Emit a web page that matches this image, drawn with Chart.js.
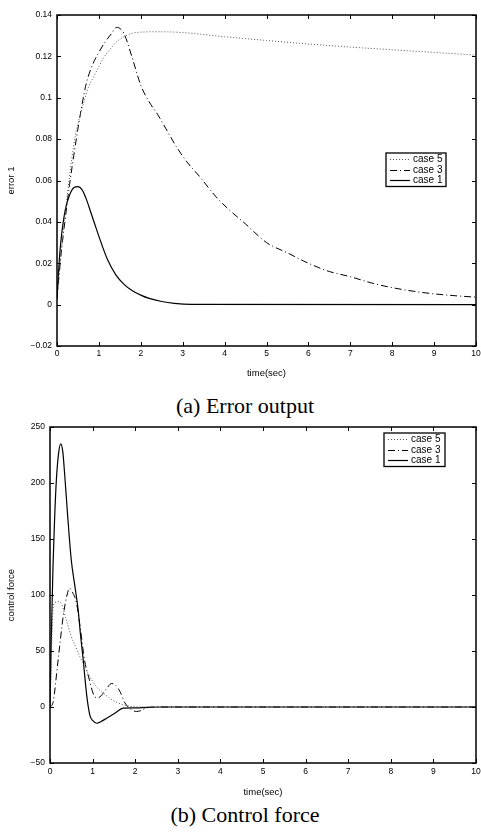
<!DOCTYPE html>
<html>
<head>
<meta charset="utf-8">
<script src="https://cdn.jsdelivr.net/npm/chart.js@4.4.0/dist/chart.umd.min.js"></script>
<style>
  body { margin: 0; background: #fff; width: 481px; height: 833px; position: relative; overflow: hidden; }
  canvas { position: absolute; left: 0; }
  #errChart { top: 0; }
  #forceChart { top: 418px; }
  .caption { position: absolute; left: 0; width: 490px; text-align: center; line-height: 24px;
             font-family: "Liberation Serif", "Times New Roman", serif; font-size: 22px; color: #000; }
</style>
</head>
<body>
<canvas id="errChart" width="481" height="385"></canvas>
<div class="caption" style="top:394px">(a) Error output</div>
<canvas id="forceChart" width="481" height="382"></canvas>
<div class="caption" style="top:803px">(b) Control force</div>
<script>
// (a) error 1 vs time
const errTime1 = [0, 0.05, 0.1, 0.2, 0.3, 0.4, 0.5, 0.6, 0.7, 0.8, 0.9, 1.0, 1.2, 1.4, 1.6, 1.8, 2.0, 2.2, 2.5, 2.8, 3.2, 10];
const errCase1 = [0.003, 0.02, 0.032, 0.046, 0.053, 0.0565, 0.057, 0.0555, 0.051, 0.045, 0.039, 0.033, 0.022, 0.0145, 0.0098, 0.0067, 0.0046, 0.003, 0.0015, 0.0006, 0.0001, 0];

const errTime3 = [0, 0.1, 0.2, 0.3, 0.4, 0.5, 0.6, 0.7, 0.85, 1.0, 1.15, 1.3, 1.42, 1.5, 1.6, 1.8, 2.0, 2.2, 2.4, 2.6, 2.86, 3.1, 3.4, 3.8, 4.1, 4.5, 5.0, 5.5, 6.0, 6.5, 7.0, 7.5, 8.0, 8.5, 9.0, 9.5, 10];
const errCase3 = [0.003, 0.025, 0.042, 0.058, 0.072, 0.085, 0.097, 0.107, 0.116, 0.122, 0.127, 0.131, 0.134, 0.1335, 0.131, 0.119, 0.106, 0.098, 0.092, 0.085, 0.076, 0.069, 0.062, 0.052, 0.046, 0.039, 0.030, 0.025, 0.020, 0.016, 0.0135, 0.0105, 0.0082, 0.0065, 0.0052, 0.0043, 0.0036];

const errTime5 = [0, 0.1, 0.2, 0.27, 0.35, 0.43, 0.53, 0.63, 0.75, 0.87, 1.0, 1.1, 1.25, 1.42, 1.6, 1.8, 2.0, 2.46, 3, 4, 5, 5.8, 7, 8, 9, 10];
const errCase5 = [0.003, 0.025, 0.045, 0.057, 0.07, 0.081, 0.09, 0.097, 0.105, 0.11, 0.115, 0.119, 0.123, 0.127, 0.1295, 0.1312, 0.1317, 0.1319, 0.1315, 0.1295, 0.1277, 0.1263, 0.1245, 0.1232, 0.1219, 0.1206];

// (b) control force vs time
const forceTime1 = [0, 0.03, 0.07, 0.11, 0.15, 0.2, 0.25, 0.3, 0.34, 0.42, 0.5, 0.58, 0.66, 0.72, 0.78, 0.84, 0.88, 0.94, 1.0, 1.1, 1.2, 1.33, 1.53, 1.72, 2.0, 2.3, 2.6, 10];
const forceCase1 = [0, 60, 125, 170, 203, 226, 235, 228, 210, 168, 131, 109, 87, 63, 42, 18, 5, -8, -12, -14.5, -13, -10, -5.4, -1, -0.8, -0.3, 0, 0];

const forceTime3 = [0, 0.07, 0.19, 0.31, 0.4, 0.46, 0.52, 0.62, 0.72, 0.81, 0.92, 1.01, 1.1, 1.2, 1.3, 1.45, 1.55, 1.64, 1.76, 1.9, 2.03, 2.15, 2.25, 2.5, 10];
const forceCase3 = [0, 4, 42, 81, 100, 106, 103, 93, 68, 42, 25, 12.5, 8, 10, 15, 21, 19, 14, 3.6, -2, -4, -3, -1, 0, 0];

const forceTime5 = [0, 0.03, 0.06, 0.11, 0.2, 0.27, 0.38, 0.5, 0.6, 0.7, 0.8, 0.89, 1.0, 1.09, 1.25, 1.45, 1.72, 1.95, 2.3, 10];
const forceCase5 = [0, 40, 80, 93, 94, 92, 78, 63, 54, 45, 37, 30, 23, 18, 12.5, 6.5, 2, 0.3, 0, 0];

const xTicks = [0, 10, 1];
const errTicks = [-0.02, 0.14, 0.02];
const forceTicks = [-50, 250, 50];
const seriesLabels = ['case 5', 'case 3', 'case 1'];

const tickFont = { family: '"Liberation Sans", Arial, sans-serif', size: 8.5 };
const titleFont = { family: '"Liberation Sans", Arial, sans-serif', size: 9.5 };

const zip = (xs, ys) => xs.map((x, i) => ({ x: x, y: ys[i] }));

function fmt(v) {
    const s = String(Math.round(v * 1000) / 1000);
    return s.replace('-', '\u2212');
}

// box around the plot with inward ticks on all four sides, matlab style
const frameTicks = {
    id: 'frameTicks',
    afterDatasetsDraw(chart) {
        const { ctx, chartArea: a, scales: { x, y } } = chart;
        ctx.save();
        ctx.strokeStyle = '#000';
        ctx.lineWidth = 1;
        ctx.beginPath();
        x.ticks.forEach(t => {
            const px = Math.round(x.getPixelForValue(t.value)) + 0.5;
            ctx.moveTo(px, a.bottom); ctx.lineTo(px, a.bottom - 4);
            ctx.moveTo(px, a.top); ctx.lineTo(px, a.top + 4);
        });
        y.ticks.forEach(t => {
            const py = Math.round(y.getPixelForValue(t.value)) + 0.5;
            ctx.moveTo(a.left, py); ctx.lineTo(a.left + 4, py);
            ctx.moveTo(a.right, py); ctx.lineTo(a.right - 4, py);
        });
        ctx.stroke();
        ctx.lineWidth = 1.5;
        ctx.strokeRect(a.left, a.top, a.right - a.left, a.bottom - a.top);
        ctx.restore();
    }
};

// framed legend inside the plot area
const boxLegend = {
    id: 'boxLegend',
    afterDraw(chart, args, opts) {
        const { ctx, chartArea: a } = chart;
        const sets = chart.data.datasets;
        const rowH = 10.5;
        const h = sets.length * rowH + 2;
        const left = a.right - opts.right - opts.width;
        const top = a.top + opts.top;
        ctx.save();
        ctx.fillStyle = '#fff';
        ctx.fillRect(left, top, opts.width, h);
        ctx.strokeStyle = '#000';
        ctx.lineWidth = 1.3;
        ctx.strokeRect(left, top, opts.width, h);
        ctx.font = '10px "Liberation Sans", Arial, sans-serif';
        ctx.textBaseline = 'middle';
        sets.forEach((ds, i) => {
            const cy = Math.round(top + 1 + rowH * (i + 0.5)) + 0.5;
            ctx.setLineDash(ds.borderDash || []);
            ctx.strokeStyle = ds.borderColor;
            ctx.lineWidth = ds.borderWidth;
            ctx.beginPath();
            ctx.moveTo(left + 4, cy);
            ctx.lineTo(left + 24, cy);
            ctx.stroke();
            ctx.setLineDash([]);
            ctx.fillStyle = '#000';
            ctx.fillText(ds.label, left + 27, cy);
        });
        ctx.restore();
    }
};

function makeDatasets(pts5, pts3, pts1) {
    return [
        { label: seriesLabels[0], data: pts5, borderColor: '#555', borderWidth: 1, borderDash: [1, 2] },
        { label: seriesLabels[1], data: pts3, borderColor: '#000', borderWidth: 1, borderDash: [7, 3, 1, 3] },
        { label: seriesLabels[2], data: pts1, borderColor: '#000', borderWidth: 1.2, borderDash: [] }
    ].map(d => ({ ...d, pointRadius: 0, cubicInterpolationMode: 'monotone', fill: false }));
}

function makeChart(id, datasets, cfg) {
    return new Chart(document.getElementById(id), {
        type: 'line',
        data: { datasets: datasets },
        plugins: [frameTicks, boxLegend],
        options: {
            responsive: false,
            animation: false,
            layout: { padding: { top: cfg.padTop, right: 5, left: 0, bottom: 0 } },
            plugins: {
                legend: { display: false },
                tooltip: { enabled: false },
                boxLegend: cfg.legend
            },
            scales: {
                x: {
                    type: 'linear',
                    min: xTicks[0], max: xTicks[1],
                    afterFit: s => { s.height = cfg.xHeight; s.paddingLeft = 0; s.paddingRight = 0; },
                    grid: { display: false, drawTicks: false },
                    border: { display: false },
                    ticks: { stepSize: xTicks[2], padding: cfg.xTickPad, font: tickFont, color: '#000', maxRotation: 0, callback: fmt },
                    title: { display: true, text: 'time(sec)', font: titleFont, color: '#000', padding: { top: 0, bottom: cfg.xTitlePad } }
                },
                y: {
                    min: cfg.y[0], max: cfg.y[1],
                    afterFit: s => { s.width = cfg.yWidth; s.paddingTop = 0; s.paddingBottom = 0; },
                    grid: { display: false, drawTicks: false },
                    border: { display: false },
                    ticks: { stepSize: cfg.y[2], padding: 5, font: tickFont, color: '#000', callback: fmt },
                    title: { display: true, text: cfg.yTitle, font: titleFont, color: '#000', padding: { top: 6, bottom: 0 } }
                }
            }
        }
    });
}

makeChart('errChart',
    makeDatasets(zip(errTime5, errCase5), zip(errTime3, errCase3), zip(errTime1, errCase1)),
    { y: errTicks, yTitle: 'error 1', yWidth: 57, padTop: 15, xHeight: 39, xTickPad: 3, xTitlePad: 6,
      legend: { right: 30, top: 138, width: 60 } });

makeChart('forceChart',
    makeDatasets(zip(forceTime5, forceCase5), zip(forceTime3, forceCase3), zip(forceTime1, forceCase1)),
    { y: forceTicks, yTitle: 'control force', yWidth: 50, padTop: 9, xHeight: 37, xTickPad: 4, xTitlePad: 2,
      legend: { right: 31, top: 6, width: 61 } });
</script>
</body>
</html>
